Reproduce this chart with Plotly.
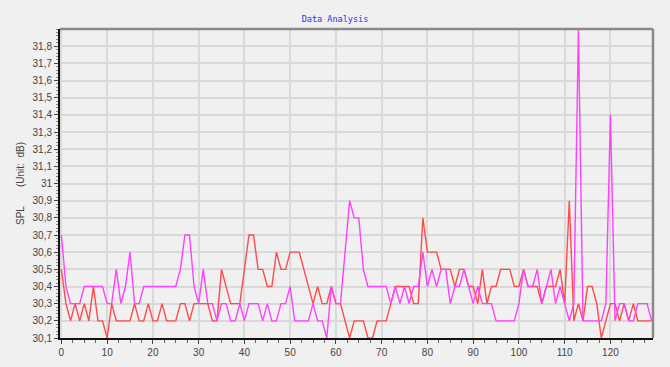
import plotly.graph_objects as go

x_values = list(range(130))

series_red = [
    30.5, 30.3, 30.2, 30.3, 30.2, 30.3, 30.2, 30.4, 30.2, 30.2,
    30.1, 30.3, 30.2, 30.2, 30.2, 30.2, 30.3, 30.2, 30.2, 30.3,
    30.2, 30.2, 30.3, 30.2, 30.2, 30.2, 30.3, 30.3, 30.2, 30.3,
    30.3, 30.3, 30.3, 30.2, 30.2, 30.5, 30.4, 30.3, 30.3, 30.3,
    30.5, 30.7, 30.7, 30.5, 30.5, 30.4, 30.4, 30.6, 30.5, 30.5,
    30.6, 30.6, 30.6, 30.5, 30.4, 30.3, 30.4, 30.3, 30.3, 30.4,
    30.3, 30.3, 30.2, 30.1, 30.2, 30.2, 30.2, 30.1, 30.1, 30.2,
    30.2, 30.2, 30.3, 30.4, 30.4, 30.4, 30.4, 30.3, 30.3, 30.8,
    30.6, 30.6, 30.6, 30.5, 30.5, 30.5, 30.4, 30.5, 30.5, 30.4,
    30.4, 30.3, 30.5, 30.3, 30.4, 30.4, 30.5, 30.5, 30.5, 30.4,
    30.4, 30.5, 30.4, 30.4, 30.4, 30.3, 30.4, 30.4, 30.4, 30.5,
    30.3, 30.9, 30.2, 30.3, 30.2, 30.4, 30.4, 30.3, 30.1, 30.2,
    30.3, 30.3, 30.2, 30.3, 30.2, 30.3, 30.2, 30.2, 30.2, 30.2,
]

series_magenta = [
    30.7, 30.4, 30.3, 30.3, 30.3, 30.4, 30.4, 30.4, 30.4, 30.4,
    30.3, 30.3, 30.5, 30.3, 30.4, 30.6, 30.3, 30.3, 30.4, 30.4,
    30.4, 30.4, 30.4, 30.4, 30.4, 30.4, 30.5, 30.7, 30.7, 30.4,
    30.3, 30.5, 30.3, 30.3, 30.2, 30.3, 30.3, 30.2, 30.2, 30.3,
    30.2, 30.3, 30.3, 30.3, 30.2, 30.3, 30.2, 30.2, 30.3, 30.3,
    30.4, 30.2, 30.2, 30.2, 30.2, 30.3, 30.2, 30.2, 30.1, 30.4,
    30.3, 30.3, 30.6, 30.9, 30.8, 30.8, 30.5, 30.4, 30.4, 30.4,
    30.4, 30.4, 30.3, 30.4, 30.3, 30.4, 30.3, 30.4, 30.4, 30.6,
    30.4, 30.5, 30.4, 30.5, 30.5, 30.3, 30.4, 30.4, 30.5, 30.4,
    30.3, 30.4, 30.3, 30.3, 30.3, 30.2, 30.2, 30.2, 30.2, 30.2,
    30.3, 30.5, 30.4, 30.4, 30.5, 30.3, 30.4, 30.5, 30.3, 30.4,
    30.3, 30.2, 30.3, 31.9, 30.2, 30.2, 30.2, 30.2, 30.2, 30.3,
    31.4, 30.2, 30.3, 30.3, 30.2, 30.2, 30.3, 30.3, 30.3, 30.2,
]

y_tick_values = [30.1, 30.2, 30.3, 30.4, 30.5, 30.6, 30.7, 30.8, 30.9, 31.0,
                 31.1, 31.2, 31.3, 31.4, 31.5, 31.6, 31.7, 31.8]
y_tick_labels = ["30,1", "30,2", "30,3", "30,4", "30,5", "30,6", "30,7", "30,8", "30,9", "31",
                 "31,1", "31,2", "31,3", "31,4", "31,5", "31,6", "31,7", "31,8"]
x_tick_values = [0, 10, 20, 30, 40, 50, 60, 70, 80, 90, 100, 110, 120]
x_tick_labels = [str(v) for v in x_tick_values]

BG = "#f0f0f0"
GRID = "#d9d9d9"
TICKFONT = dict(family="Liberation Sans, Arial, sans-serif", size=10, color="#444444")

fig = go.Figure()
fig.add_trace(go.Scatter(x=x_values, y=series_red, mode="lines",
                         line=dict(color="#ff4a4a", width=1.4), showlegend=False))
fig.add_trace(go.Scatter(x=x_values, y=series_magenta, mode="lines",
                         line=dict(color="#ff40ff", width=1.4), showlegend=False))

fig.update_layout(
    width=670, height=367,
    paper_bgcolor=BG, plot_bgcolor=BG,
    margin=dict(l=60, r=17, t=29, b=29, autoexpand=False),
    title=dict(text="Data Analysis", x=0.5, xanchor="center", xref="container",
               y=1 - 19 / 367, yref="container", yanchor="middle",
               font=dict(family="DejaVu Sans Mono, Liberation Mono, monospace", size=8.5, color="#2a2aff")),
    xaxis=dict(
        range=[-0.3, 129.3], tickvals=x_tick_values, ticktext=x_tick_labels,
        showgrid=True, gridcolor=GRID, gridwidth=1.5, zeroline=False, automargin=False,
        showline=True, linecolor="#111111", linewidth=2,
        ticks="outside", ticklen=4, tickcolor="#444444", tickfont=TICKFONT,
        minor=dict(dtick=2.5, ticks="outside", ticklen=3, tickcolor="#666666", showgrid=False),
    ),
    yaxis=dict(
        range=[30.1, 31.9], tickvals=y_tick_values, ticktext=y_tick_labels,
        showgrid=True, gridcolor=GRID, gridwidth=1.5, zeroline=False, automargin=False,
        showline=True, linecolor="#111111", linewidth=2,
        ticks="outside", ticklen=4, tickcolor="#444444", tickfont=TICKFONT,
        minor=dict(dtick=0.02, ticks="outside", ticklen=2, tickcolor="#888888", showgrid=False),
        title=dict(text="SPL       (Unit:  dB)", standoff=6,
                   font=dict(family="Liberation Sans, Arial, sans-serif", size=10, color="#444444")),
    ),
)

# gray top and right frame of the plot area
fig.add_shape(type="line", xref="paper", yref="paper", x0=0, x1=1, y0=1, y1=1,
              line=dict(color="#8a8a8a", width=2.5))
fig.add_shape(type="line", xref="paper", yref="paper", x0=1, x1=1, y0=0, y1=1,
              line=dict(color="#8a8a8a", width=2.5))

fig.write_html("out.html", config={"displayModeBar": False},
               post_script="document.body.style.margin='0';")
